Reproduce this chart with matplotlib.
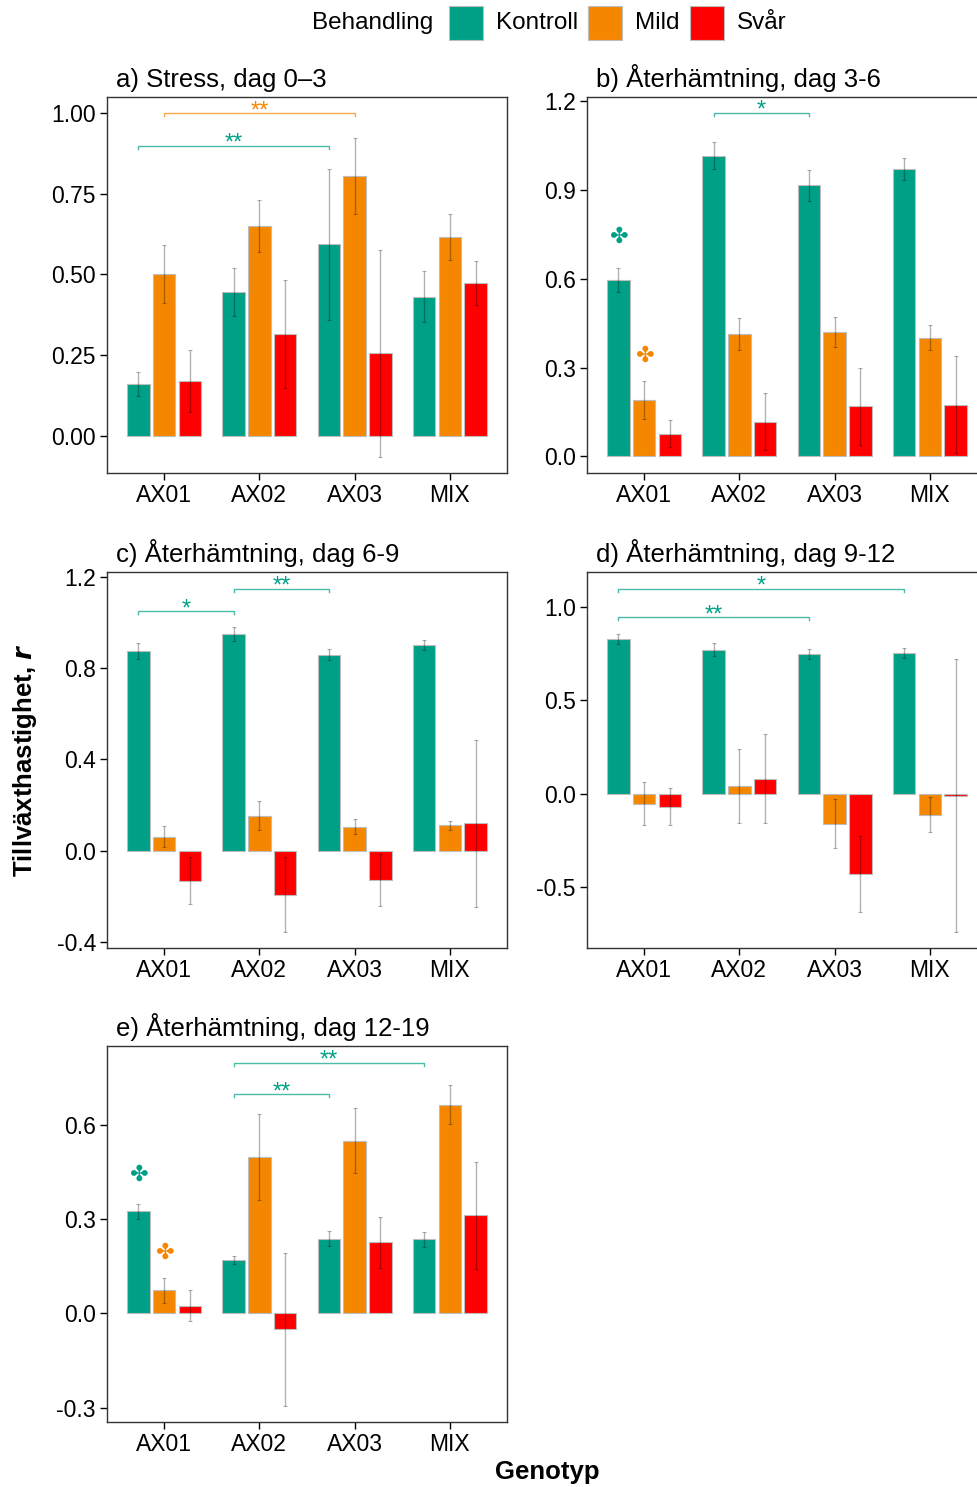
import numpy as np
import matplotlib
matplotlib.use("Agg")
import matplotlib.pyplot as plt
import matplotlib.transforms as mtransforms
from matplotlib.patches import Rectangle

plt.rcParams["font.family"] = ["Liberation Sans", "DejaVu Sans"]
plt.rcParams["axes.unicode_minus"] = False

# ================= DATA =================
genotypes = ["AX01", "AX02", "AX03", "MIX"]
treatments = ["Kontroll", "Mild", "Svår"]
colors = {"Kontroll": "#00A087", "Mild": "#F58700", "Svår": "#FF0000"}

titles = [
    "a) Stress, dag 0–3",
    "b) Återhämtning, dag 3-6",
    "c) Återhämtning, dag 6-9",
    "d) Återhämtning, dag 9-12",
    "e) Återhämtning, dag 12-19",
]

# mean growth rate per treatment (rows) and genotype (cols)
mean_a = [[0.160, 0.445, 0.593, 0.430], [0.502, 0.650, 0.805, 0.616], [0.169, 0.316, 0.255, 0.473]]
se_a = [[0.038, 0.074, 0.233, 0.079], [0.090, 0.080, 0.119, 0.071], [0.097, 0.168, 0.322, 0.067]]

mean_b = [[0.597, 1.017, 0.916, 0.971], [0.190, 0.414, 0.421, 0.402], [0.077, 0.117, 0.169, 0.175]]
se_b = [[0.041, 0.045, 0.053, 0.038], [0.064, 0.055, 0.051, 0.041], [0.045, 0.096, 0.130, 0.164]]

mean_c = [[0.875, 0.950, 0.859, 0.900], [0.061, 0.152, 0.105, 0.110], [-0.133, -0.193, -0.127, 0.119]]
se_c = [[0.035, 0.032, 0.024, 0.023], [0.045, 0.064, 0.032, 0.018], [0.103, 0.165, 0.114, 0.366]]

mean_d = [[0.829, 0.771, 0.748, 0.754], [-0.054, 0.040, -0.160, -0.112], [-0.071, 0.080, -0.430, -0.011]]
se_d = [[0.029, 0.034, 0.025, 0.027], [0.114, 0.197, 0.130, 0.093], [0.099, 0.239, 0.203, 0.730]]

mean_e = [[0.325, 0.169, 0.238, 0.236], [0.073, 0.498, 0.550, 0.665], [0.025, -0.051, 0.227, 0.312]]
se_e = [[0.023, 0.013, 0.023, 0.023], [0.041, 0.138, 0.103, 0.063], [0.048, 0.245, 0.081, 0.169]]

means = [mean_a, mean_b, mean_c, mean_d, mean_e]
ses = [se_a, se_b, se_c, se_d, se_e]

# significance brackets: (treatment, genotype from, genotype to, y, label)
brackets = [
    [("Mild", 0, 2, 1.00, "**"), ("Kontroll", 0, 2, 0.899, "**")],
    [("Kontroll", 1, 2, 1.161, "*")],
    [("Kontroll", 0, 1, 1.049, "*"), ("Kontroll", 1, 2, 1.148, "**")],
    [("Kontroll", 0, 3, 1.098, "*"), ("Kontroll", 0, 2, 0.946, "**")],
    [("Kontroll", 1, 3, 0.799, "**"), ("Kontroll", 1, 2, 0.698, "**")],
]

# cross markers: (treatment, genotype, y)
crosses = [
    [],
    [("Kontroll", 0, 0.741), ("Mild", 0, 0.341)],
    [],
    [],
    [("Kontroll", 0, 0.441), ("Mild", 0, 0.192)],
]

ylims = [(-0.116, 1.05), (-0.056, 1.215), (-0.427, 1.221), (-0.827, 1.1875), (-0.346, 0.852)]
yticks = [
    [0.0, 0.25, 0.5, 0.75, 1.0],
    [0.0, 0.3, 0.6, 0.9, 1.2],
    [-0.4, 0.0, 0.4, 0.8, 1.2],
    [-0.5, 0.0, 0.5, 1.0],
    [-0.3, 0.0, 0.3, 0.6],
]
yfmt = ["{:.2f}", "{:.1f}", "{:.1f}", "{:.1f}", "{:.1f}"]

# ================= LAYOUT =================
W, H = 978, 1487
fig = plt.figure(figsize=(W / 100, H / 100), dpi=100)

# panel boxes in pixels: left, top
boxes = [(107, 97), (587, 97), (107, 572), (587, 572), (107, 1046)]
pw, ph = 400, 376

dodge = 0.27
width = 0.235
x = np.arange(len(genotypes))

for i in range(5):
    left, top = boxes[i]
    ax = fig.add_axes([left / W, 1 - (top + ph) / H, pw / W, ph / H])

    for j, t in enumerate(treatments):
        xs = x + (j - 1) * dodge
        ax.bar(xs, means[i][j], width=width, color=colors[t],
               edgecolor="#bdbdbd", linewidth=0.8, zorder=2)
        ax.errorbar(xs, means[i][j], yerr=ses[i][j], fmt="none",
                    ecolor=(0, 0, 0, 0.3), elinewidth=1.0, capsize=1.2,
                    capthick=0.8, zorder=3)

    yr = ylims[i][1] - ylims[i][0]
    star_tr = mtransforms.offset_copy(ax.transData, fig=fig, x=0, y=-4, units="dots")
    for t, g1, g2, yb, lab in brackets[i]:
        off = (treatments.index(t) - 1) * dodge
        x1, x2 = g1 + off, g2 + off
        tick = yr * 0.008
        ax.plot([x1, x1, x2, x2], [yb - tick, yb, yb, yb - tick],
                color=colors[t], alpha=0.7, linewidth=1.0, zorder=4)
        ax.text((x1 + x2) / 2, yb, lab, color=colors[t], transform=star_tr,
                ha="center", va="baseline", fontsize=17, zorder=4)

    for t, g, yc in crosses[i]:
        off = (treatments.index(t) - 1) * dodge
        ax.text(g + off, yc, "✤", color=colors[t], ha="center", va="center",
                fontsize=16, family=["DejaVu Sans"], zorder=4)

    ax.set_xlim(-0.6, 3.6)
    ax.set_ylim(*ylims[i])
    ax.set_xticks(x)
    ax.set_xticklabels(genotypes)
    ax.set_yticks(yticks[i])
    ax.set_yticklabels([yfmt[i].format(v) for v in yticks[i]])
    ax.tick_params(direction="out", length=5, width=1.0, labelsize=16.5,
                   colors="black", pad=3)
    for s in ax.spines.values():
        s.set_linewidth(1.0)
        s.set_color("#333333")
    ax.text(0.023, 1.012, titles[i], transform=ax.transAxes, ha="left",
            va="bottom", fontsize=18.5)

# ================= LABELS =================
fig.text(25 / W, 1 - 760 / H, r"Tillväxthastighet, $\bfit{r}$", rotation=90,
         ha="center", va="center", fontsize=18.5, fontweight="bold")
fig.text(547 / W, 1 - 1472 / H, "Genotyp", ha="center", va="center",
         fontsize=18.5, fontweight="bold")

# ================= LEGEND =================
fig.text(312 / W, 1 - 23 / H, "Behandling", ha="left", va="center", fontsize=17.5)
key_x = [449, 588, 690]
for t, kx in zip(treatments, key_x):
    fig.add_artist(Rectangle((kx / W, 1 - 40 / H), 34 / W, 34 / H,
                             transform=fig.transFigure, facecolor=colors[t],
                             edgecolor="#bdbdbd", linewidth=0.8))
    fig.text((kx + 47) / W, 1 - 23 / H, t, ha="left", va="center", fontsize=17.5)

fig.savefig("out.png", dpi=100)
